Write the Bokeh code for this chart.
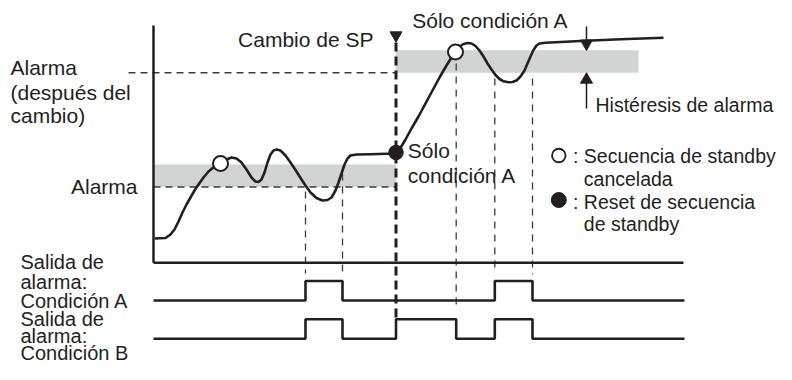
from bokeh.plotting import figure
from bokeh.models import Range1d
from bokeh.embed import file_html
from bokeh.resources import INLINE
from bokeh.core.properties import value

# ---------------- data (time on x, process value on y) ----------------
curve_t = [154, 165, 170, 174, 178, 182, 186, 190, 194, 198, 203, 208, 214, 220,
           226, 231, 236, 241, 246, 251, 255, 258, 261, 264, 267, 270, 273, 276,
           280, 285, 290, 296, 301, 305, 310, 316, 322, 327, 331, 335, 338, 341,
           344, 347, 350, 356, 370, 395,
           399, 405, 411, 418, 425, 432, 439, 446, 451, 455, 459, 463, 467, 471,
           475, 479, 483, 487, 491, 495, 499, 503, 508, 512, 516, 520, 524, 527,
           530, 533, 536, 539, 545, 580, 620, 663]
curve_pv = [142, 142.5, 146, 151, 159, 168, 176, 183, 190, 196, 203, 209, 214, 217,
            221, 223, 222, 218, 211, 203, 199, 198.5, 201, 208, 218, 226, 230, 231,
            230, 225, 218, 209, 201, 195, 188, 182.5, 180, 180.5, 183, 190, 198, 207,
            216, 222, 225, 226, 226.2, 227,
            231, 241, 252, 264, 277, 290, 303, 315, 323, 328.5, 334, 336.5, 337.5, 337,
            334.5, 330, 324, 317, 311, 305.5, 301.5, 299.2, 298.2, 298.5, 300, 304, 310, 317,
            324, 330.5, 335, 337, 337.7, 339.5, 341.2, 342.7]

sp_change_t = 395.5
alarm_before = 193.5          # alarm value before SP change
alarm_after = 307.7           # alarm value after SP change
hysteresis = 22.5

event_t = [305, 342, 455.7, 494.3, 532]
event_top = [189, 207, 317, 302, 302]
event_bottom = [107, 107, 70, 112, 106]

open_t = [220, 455]           # standby sequence cancelled
open_pv = [217, 328.5]
reset_t = [395.5]             # standby sequence reset
reset_pv = [228]

step_t = [153, 305, 342, 395.5, 455.7, 494.3, 532, 684]
cond_a = [0, 1, 0, 0, 0, 1, 0, 0]
cond_b = [0, 1, 0, 1, 0, 1, 0, 0]

left_labels = ["Alarma", "(después del", "cambio)"]
alarm_label = "Alarma"
sp_label = "Cambio de SP"
only_a_top = "Sólo condición A"
only_a_mid = ["Sólo", "condición A"]
hyst_label = "Histéresis de alarma"
legend_open = [": Secuencia de standby", "cancelada"]
legend_reset = [": Reset de secuencia", "de standby"]
out_a_labels = ["Salida de", "alarma:", "Condición A"]
out_b_labels = ["Salida de", "alarma:", "Condición B"]

# ---------------- figure ----------------
INK = "#231f20"
GRAY = "#d1d3d4"
DASH = "#3c3c3c"
FONT = value("Liberation Sans")

p = figure(width=776, height=364, output_backend="svg", toolbar_location=None,
           x_range=Range1d(0, 776), y_range=Range1d(16, 380),
           x_axis_type=None, y_axis_type=None, min_border=0)
p.outline_line_color = None
p.grid.visible = False
p.background_fill_color = "white"
p.border_fill_color = "white"

# hysteresis bands
p.quad(left=[153], right=[sp_change_t], bottom=[alarm_before],
       top=[alarm_before + hysteresis], fill_color=GRAY, line_color=None)
p.quad(left=[sp_change_t], right=[638], bottom=[alarm_after],
       top=[alarm_after + hysteresis], fill_color=GRAY, line_color=None)

# alarm value dashed lines
p.line([153, sp_change_t], [alarm_before, alarm_before], line_color=DASH,
       line_width=1.4, line_dash="7 5")
p.line([128, sp_change_t], [alarm_after, alarm_after], line_color=DASH,
       line_width=1.4, line_dash="7 5")

# event dashed verticals
p.segment(x0=event_t, y0=event_top, x1=event_t, y1=event_bottom,
          line_color=DASH, line_width=1.3, line_dash="7 6")

# SP change thick dashed line + marker
p.line([sp_change_t, sp_change_t], [338, 62], line_color=INK, line_width=3,
       line_dash="9 5")
p.scatter([sp_change_t], [345.2], marker="inverted_triangle", size=12,
          fill_color=INK, line_color=INK)

# axes
p.line([153, 153], [355, 117.7], line_color=INK, line_width=2.5)
p.line([153, 683], [117.7, 117.7], line_color=INK, line_width=2.5)

# process value curve
p.line(curve_t, curve_pv, line_color=INK, line_width=2.6, line_join="round")

# markers
p.scatter(open_t, open_pv, marker="circle", size=15, fill_color="white",
          line_color=INK, line_width=2)
p.scatter(reset_t, reset_pv, marker="circle", size=14.5, fill_color=INK,
          line_color=INK, line_width=1)

# hysteresis arrows
p.line([586, 586], [354, 331], line_color=INK, line_width=1.5)
p.scatter([586], [337], marker="inverted_triangle", size=12, fill_color=INK, line_color=INK)
p.line([586, 586], [307, 272], line_color=INK, line_width=1.5)
p.scatter([586], [300.8], marker="triangle", size=12, fill_color=INK, line_color=INK)

# output timing lines
A_BASE, B_BASE, AMP = 80, 41.7, 19.5
p.step(step_t, [A_BASE + AMP * s for s in cond_a], mode="after",
       line_color=INK, line_width=2.6)
p.step(step_t, [B_BASE + AMP * s for s in cond_b], mode="after",
       line_color=INK, line_width=2.6)

# legend symbols
p.scatter([558.3], [225], marker="circle", size=13.5, fill_color="white",
          line_color=INK, line_width=1.8)
p.scatter([558.3], [180.5], marker="circle", size=15, fill_color=INK,
          line_color=INK)

# ---------------- texts ----------------
SHIFT = 7  # compensate renderer baseline offset (pixels)


def txt(xs, baselines, texts, align="left", size="21px"):
    ys = [380 - (b - SHIFT) for b in baselines]
    p.text(x=xs, y=ys, text=texts, text_font=FONT, text_font_size=value(size),
           text_color=INK, text_align=align, text_baseline="alphabetic")


txt([10, 10, 10], [74.3, 98.5, 121.7], left_labels)
txt([137], [192.7], [alarm_label], align="right")
txt([373], [45.5], [sp_label], align="right")
txt([411.7], [26.7], [only_a_top])
txt([407.3, 407.3], [156.7, 181.7], only_a_mid)
txt([595], [111.7], [hyst_label], size="19.5px")
txt([572.5, 583.3], [162.7, 185.5], legend_open, size="19.5px")
txt([572.5, 583.3], [208.5, 230], legend_reset, size="19.5px")
txt([20, 20, 20], [268.5, 288, 307.5], out_a_labels, size="20px")
txt([20, 20, 20], [325.5, 342.5, 359.5], out_b_labels, size="20px")

open("out.html", "w").write(file_html(p, INLINE))
